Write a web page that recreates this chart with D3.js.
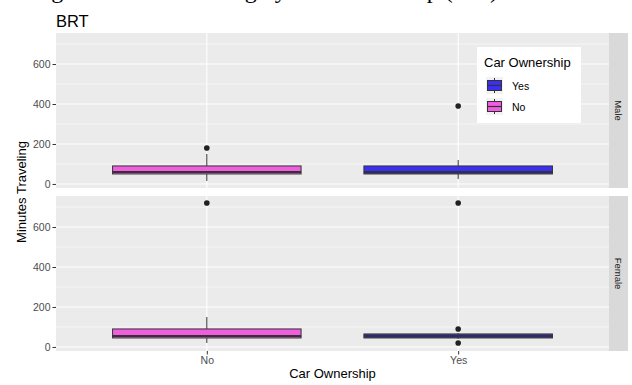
<!DOCTYPE html>
<html>
<head>
<meta charset="utf-8">
<script src="https://cdn.jsdelivr.net/npm/d3@7"></script>
<style>
  html, body { margin: 0; padding: 0; background: #fff; }
  svg { display: block; font-family: "Liberation Sans", Arial, sans-serif; }
</style>
</head>
<body>
<svg id="chart" width="632" height="385"></svg>
<script>
// Categories and facets
const ownership = ["No", "Yes"];
const genders = ["Male", "Female"];
const legendOrder = ["Yes", "No"];

// Five-number summaries per facet, in ownership order (No, Yes)
const maleLowWhisker  = [15, 25];
const maleQ1          = [50, 50];
const maleMedian      = [60, 60];
const maleQ3          = [90, 90];
const maleHighWhisker = [150, 120];
const maleOutliers    = [[180], [390]];

const femaleLowWhisker  = [20, 40];
const femaleQ1          = [45, 45];
const femaleMedian      = [55, 55];
const femaleQ3          = [90, 65];
const femaleHighWhisker = [150, 70];
const femaleOutliers    = [[720], [20, 90, 720]];

const yTicks = [0, 200, 400, 600];
const yMinor = [100, 300, 500, 700];

const fills = { Yes: "#3c2ff4", No: "#f15ddf" };

function facetRows(low, q1, med, q3, high, outs) {
  return ownership.map((c, i) => ({
    cat: c, low: low[i], q1: q1[i], med: med[i], q3: q3[i], high: high[i], outliers: outs[i]
  }));
}
const facets = [
  { name: genders[0], rows: facetRows(maleLowWhisker, maleQ1, maleMedian, maleQ3, maleHighWhisker, maleOutliers) },
  { name: genders[1], rows: facetRows(femaleLowWhisker, femaleQ1, femaleMedian, femaleQ3, femaleHighWhisker, femaleOutliers) }
];

const svg = d3.select("#chart");

// Layout
const plotLeft = 56, plotRight = 609;
const panelTops = [33, 196];
const panelH = 155;
const stripW = 19;

// Shared y domain with 5% expansion
const allVals = facets.flatMap(f => f.rows.flatMap(r => [r.low, r.high, ...r.outliers]));
const lo = d3.min(allVals), hi = d3.max(allVals);
const pad = (hi - lo) * 0.05;

const x = d3.scalePoint().domain(ownership).range([plotLeft, plotRight]).padding(0.6);
const boxW = x.step() * 0.75;

// Title (serif, its top line runs off the page edge) and subtitle
svg.append("text")
  .attr("x", 498).attr("y", -2)
  .attr("text-anchor", "end")
  .style("font-family", "'Liberation Serif', 'Times New Roman', serif")
  .style("font-size", "24px")
  .attr("fill", "#000")
  .text("Average Minutes Traveling by Car Ownership (min)");

svg.append("text")
  .attr("x", 56).attr("y", 27)
  .style("font-size", "16.5px")
  .attr("fill", "#000")
  .text("BRT");

facets.forEach((f, fi) => {
  const top = panelTops[fi];
  const y = d3.scaleLinear().domain([lo - pad, hi + pad]).range([top + panelH, top]);
  const g = svg.append("g");

  // Panel background
  g.append("rect")
    .attr("x", plotLeft).attr("y", top)
    .attr("width", plotRight - plotLeft).attr("height", panelH)
    .attr("fill", "#ebebeb");

  // Minor gridlines
  g.selectAll(".minor").data(yMinor).join("line")
    .attr("x1", plotLeft).attr("x2", plotRight)
    .attr("y1", d => y(d)).attr("y2", d => y(d))
    .attr("stroke", "#fff").attr("stroke-width", 0.55);

  // Major gridlines
  g.selectAll(".major").data(yTicks).join("line")
    .attr("x1", plotLeft).attr("x2", plotRight)
    .attr("y1", d => y(d)).attr("y2", d => y(d))
    .attr("stroke", "#fff").attr("stroke-width", 1.1);
  g.selectAll(".vmajor").data(ownership).join("line")
    .attr("x1", d => x(d)).attr("x2", d => x(d))
    .attr("y1", top).attr("y2", top + panelH)
    .attr("stroke", "#fff").attr("stroke-width", 1.1);

  // Y axis
  const yAxis = d3.axisLeft(y).tickValues(yTicks).tickSize(3.5).tickPadding(2);
  const ya = g.append("g").attr("transform", `translate(${plotLeft},0)`).call(yAxis);
  ya.select(".domain").remove();
  ya.selectAll("line").attr("stroke", "#333").attr("stroke-width", 1);
  ya.selectAll("text").attr("fill", "#4d4d4d").style("font-size", "10.5px");

  // Boxes
  const boxes = g.selectAll(".box").data(f.rows).join("g");
  boxes.append("line")
    .attr("x1", d => x(d.cat)).attr("x2", d => x(d.cat))
    .attr("y1", d => y(d.high)).attr("y2", d => y(d.q3))
    .attr("stroke", "#333").attr("stroke-width", 1);
  boxes.append("line")
    .attr("x1", d => x(d.cat)).attr("x2", d => x(d.cat))
    .attr("y1", d => y(d.q1)).attr("y2", d => y(d.low))
    .attr("stroke", "#333").attr("stroke-width", 1);
  boxes.append("rect")
    .attr("x", d => x(d.cat) - boxW / 2)
    .attr("y", d => y(d.q3))
    .attr("width", boxW)
    .attr("height", d => y(d.q1) - y(d.q3))
    .attr("fill", d => fills[d.cat])
    .attr("stroke", "#333").attr("stroke-width", 1);
  boxes.append("line")
    .attr("x1", d => x(d.cat) - boxW / 2).attr("x2", d => x(d.cat) + boxW / 2)
    .attr("y1", d => y(d.med)).attr("y2", d => y(d.med))
    .attr("stroke", "#333").attr("stroke-width", 2);
  boxes.selectAll(".out").data(d => d.outliers.map(v => ({ cat: d.cat, v }))).join("circle")
    .attr("cx", d => x(d.cat)).attr("cy", d => y(d.v))
    .attr("r", 2.8).attr("fill", "#222");

  // Facet strip
  g.append("rect")
    .attr("x", plotRight).attr("y", top)
    .attr("width", stripW).attr("height", panelH)
    .attr("fill", "#d9d9d9");
  g.append("text")
    .attr("transform", `translate(${plotRight + stripW / 2 - 3.3},${top + panelH / 2}) rotate(90)`)
    .attr("text-anchor", "middle")
    .style("font-size", "9.5px")
    .attr("fill", "#1a1a1a")
    .text(f.name);

  // X axis on the bottom panel
  if (fi === facets.length - 1) {
    const xAxis = d3.axisBottom(x).tickSize(3.5).tickPadding(2);
    const xa = g.append("g").attr("transform", `translate(0,${top + panelH})`).call(xAxis);
    xa.select(".domain").remove();
    xa.selectAll("line").attr("stroke", "#333");
    xa.selectAll("text").attr("fill", "#4d4d4d").style("font-size", "10.5px");
  }
});

// Axis titles
svg.append("text")
  .attr("x", (plotLeft + plotRight) / 2).attr("y", 378)
  .attr("text-anchor", "middle")
  .style("font-size", "13px")
  .attr("fill", "#000")
  .text("Car Ownership");
svg.append("text")
  .attr("transform", `translate(26,${(panelTops[0] + panelTops[1] + panelH) / 2}) rotate(-90)`)
  .attr("text-anchor", "middle")
  .style("font-size", "13px")
  .attr("fill", "#000")
  .text("Minutes Traveling");

// Legend
const lg = svg.append("g").attr("transform", "translate(477,47)");
lg.append("rect").attr("width", 104).attr("height", 76).attr("fill", "#fff");
lg.append("text").attr("x", 7).attr("y", 20)
  .style("font-size", "13px").attr("fill", "#000").text("Car Ownership");
const keys = lg.selectAll(".key").data(legendOrder).join("g")
  .attr("transform", (d, i) => `translate(9,${30 + i * 21})`);
keys.append("rect").attr("width", 17).attr("height", 17).attr("fill", "#f2f2f2");
keys.append("line").attr("x1", 8.5).attr("x2", 8.5).attr("y1", 1).attr("y2", 16)
  .attr("stroke", "#333");
keys.append("rect").attr("x", 1.5).attr("y", 3.5).attr("width", 14).attr("height", 10)
  .attr("fill", d => fills[d]).attr("stroke", "#333");
keys.append("line").attr("x1", 1.5).attr("x2", 15.5).attr("y1", 8.5).attr("y2", 8.5)
  .attr("stroke", "#333").attr("stroke-width", 1.2);
keys.append("text").attr("x", 26).attr("y", 12.5)
  .style("font-size", "10.5px").attr("fill", "#000").text(d => d);
</script>
</body>
</html>
